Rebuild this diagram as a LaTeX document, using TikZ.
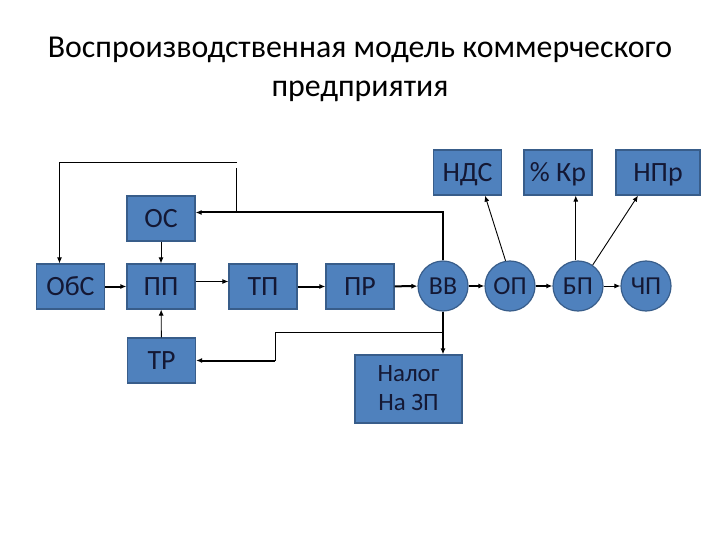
\documentclass[tikz,border=0pt]{standalone}
\usepackage{fontspec}
\setmainfont{Carlito}
\usepackage{xcolor}
\usetikzlibrary{arrows.meta, positioning}

\definecolor{boxfill}{RGB}{79,129,189}
\definecolor{boxline}{RGB}{56,93,138}
\definecolor{boxtext}{RGB}{20,24,52}

\begin{document}
\begin{tikzpicture}[
  x=1bp, y=-1bp,
  box/.style={draw=boxline, fill=boxfill, line width=1.2bp, minimum width=68bp, minimum height=45bp,
    text=boxtext, font=\fontsize{28}{30}\selectfont, inner sep=0pt, text height=18bp, text depth=-3bp},
  circ/.style={circle, draw=boxline, fill=boxfill, line width=1.2bp, minimum size=50bp,
    text=boxtext, font=\fontsize{26}{28}\selectfont, inner sep=0pt, text height=17bp, text depth=0bp},
  arrow/.style={-{Latex[length=6bp, width=5bp]}, line width=0.9bp},
  bigarrow/.style={-{Latex[length=6bp, width=5bp]}, line width=2bp}
]
\useasboundingbox (0,0) rectangle (720,540);

% Title
\node[font=\fontsize{32}{40}\selectfont, align=center, anchor=base] (title) at (360,97)
  {Воспроизводственная модель коммерческого\\предприятия};

% Nodes
\node[box] (obs) at (70.5,286.5) {ОбС};
\node[box] (pp) at (161,286.5) {ПП};
\node[box] (os) at (161,218.5) {ОС};
\node[box] (tp) at (263,286.5) {ТП};
\node[box] (pr) at (360,286.5) {ПР};
\node[box] (tr) at (161.5,360.5) {ТР};
\node[circ] (vv) at (443,286) {ВВ};
\node[circ] (op) at (510,286) {ОП};
\node[circ] (bp) at (578,286) {БП};
\node[circ] (chp) at (646,286) {ЧП};
\node[box] (nds) at (467.5,172.5) {НДС};
\node[box] (kr) at (558,172.5) {\% Кр};
\node[box, minimum width=84bp] (npr) at (658,172.5) {НПр};
\node[box, minimum width=107bp, minimum height=68bp, align=center,
  font=\fontsize{25}{29}\selectfont, text height=43bp, text depth=-7bp] (nalog) at (408.5,389) {Налог\\На ЗП};

% Helper points
\coordinate (fbtop) at (237,162);
\coordinate (fbbot) at (236,168);
\coordinate (osin) at ([yshift=6bp]os.east);
\coordinate (br) at (275,332);

% Pointers
\draw[bigarrow] (obs) -- (pp);
\draw[arrow] (os) -- (pp);
\draw[arrow] ([yshift=5bp]pp.east) -- ([yshift=5bp]tp.west);
\draw[bigarrow] (tp) -- (pr);
\draw[bigarrow] (pr) -- (vv);
\draw[bigarrow] (vv) -- (op);
\draw[bigarrow] (op) -- (bp);
\draw[arrow] (bp) -- (chp);
\draw[arrow] (op.100) -- ([xshift=17.5bp]nds.south);
\draw[arrow] (bp.95) -- (bp.95 |- kr.south);
\draw[arrow] (bp.55) -- ([xshift=-20bp]npr.south);
\draw[bigarrow] (vv.south) -- (vv.south |- nalog.north);
\draw[arrow] (tr) -- (pp);

% Feedback lines
\draw[bigarrow] (vv.north) |- (osin);
\draw[line width=0.9bp] (fbbot) -- (fbbot |- osin);
\draw[arrow] (fbtop) -| ([xshift=-11bp]obs.north);
\draw[line width=0.9bp] (vv.south |- br) -- (br) -- (br |- tr.east);
\draw[bigarrow] (br |- tr.east) -- (tr.east);

\end{tikzpicture}
\end{document}
